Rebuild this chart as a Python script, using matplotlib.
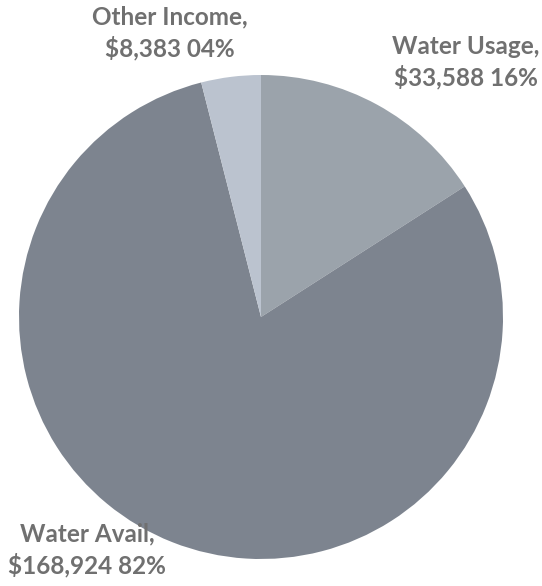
import matplotlib
matplotlib.use("Agg")
import matplotlib.pyplot as plt

# Income breakdown (values as printed on the chart)
categories = ['Water Usage', 'Water Avail', 'Other Income']
amounts = [33588, 168924, 8383]
pct_labels = ['16%', '82%', '04%']
colors = ['#9ba3ab', '#7d848f', '#bbc3cf']

W, H = 542, 586
fig = plt.figure(figsize=(W / 100, H / 100), dpi=100)
fig.patch.set_facecolor('white')

# pie centre ~(261, 317) px, radius ~242 px
cx, cy, r = 261, 317, 242
ax = fig.add_axes([(cx - r) / W, 1 - (cy + r) / H, 2 * r / W, 2 * r / H])
ax.pie(amounts, colors=colors, startangle=90, counterclock=False,
       radius=1, wedgeprops=dict(linewidth=0))
ax.set_xlim(-1, 1)
ax.set_ylim(-1, 1)
ax.set_aspect('equal')
ax.axis('off')

# label anchor points in pixels (centre of two-line block)
label_pos = {'Water Usage': (466, 62), 'Water Avail': (87, 550), 'Other Income': (170, 33)}

for name, amt, pct in zip(categories, amounts, pct_labels):
    x, y = label_pos[name]
    txt = f"{name},\n${amt:,} {pct}"
    fig.text(x / W, 1 - y / H, txt, ha='center', va='center',
             fontsize=17.5, fontweight='bold', family=['Lato', 'DejaVu Sans'],
             color='#707070', linespacing=1.35)

fig.savefig('out.png', dpi=100, facecolor='white')
